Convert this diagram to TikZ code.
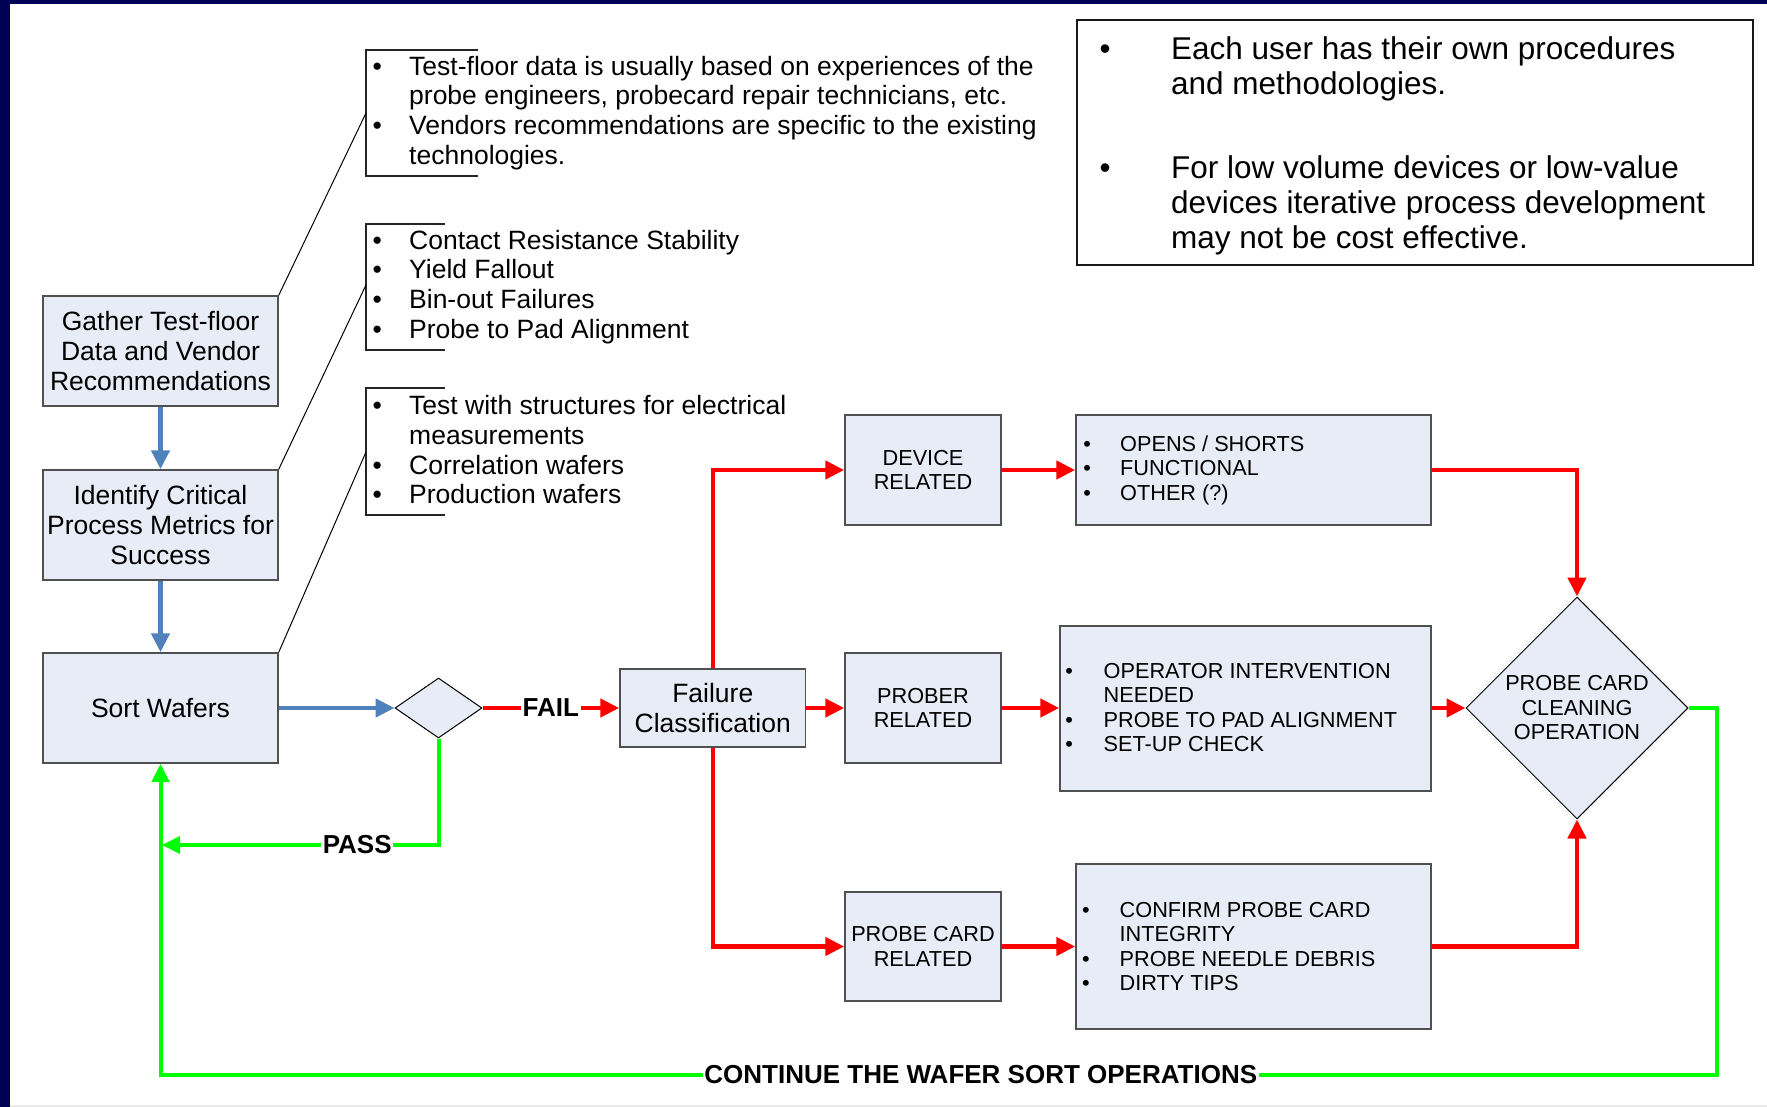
\documentclass[tikz,border=0pt]{standalone}
\usepackage{fontspec}
\setmainfont{Liberation Sans}
\usetikzlibrary{arrows.meta,shapes.geometric}
\definecolor{boxfill}{RGB}{231,236,246}
\definecolor{boxline}{RGB}{80,80,80}
\definecolor{navyb}{RGB}{0,0,85}
\definecolor{flowblue}{RGB}{79,129,189}
\definecolor{flowred}{RGB}{255,0,0}
\definecolor{flowgreen}{RGB}{0,255,0}
\newcommand\fontA{\fontsize{26.5pt}{29.8pt}\selectfont}
\newcommand\fontB{\fontsize{21.7pt}{24.5pt}\selectfont}
\newcommand\fontN{\fontsize{31.5pt}{35pt}\selectfont}
\newcommand\fontL{\fontsize{26pt}{30pt}\selectfont\bfseries}
\newcommand\bul[1]{\makebox[#1][l]{\textbullet}}
\begin{document}
\begin{tikzpicture}[x=1pt,y=-1pt,
  procbox/.style={rectangle, draw=boxline, line width=1.5pt, fill=boxfill, inner sep=0pt, align=center},
  decbox/.style={diamond, draw=black, line width=1pt, fill=boxfill, inner sep=0pt, align=center},
  bigtext/.style={font=\fontA},
  captext/.style={font=\fontB},
  listnode/.style={anchor=north west, inner sep=0pt, align=left},
  calloutline/.style={draw=black!85, line width=1.2pt},
  bluearrow/.style={draw=flowblue, line width=4.5pt, -{Triangle[length=19pt,width=18pt]}},
  redarrow/.style={draw=flowred, line width=4.5pt, -{Triangle[length=19pt,width=18pt]}},
  greenarrow/.style={draw=flowgreen, line width=4pt, -{Triangle[length=18pt,width=17pt]}},
  flowlabel/.style={font=\fontL, fill=white, inner sep=1.5pt, text=black}
]
\useasboundingbox (0,0) rectangle (1767,1107);
% background and frame
\fill[white] (0,0) rectangle (1767,1107);
\fill[navyb] (0,0) rectangle (9.5,1107);
\fill[navyb] (0,0) rectangle (1767,4.5);
\fill[black!8] (9.5,1105) rectangle (1767,1107);

% left column boxes
\node[procbox, bigtext, minimum width=235pt, minimum height=110pt] (gather) at (160.5,351) {Gather Test-floor\\Data and Vendor\\Recommendations};
\node[procbox, bigtext, minimum width=235pt, minimum height=110pt] (identify) at (160.5,525) {Identify Critical\\Process Metrics for\\Success};
\node[procbox, bigtext, minimum width=235pt, minimum height=110pt] (sort) at (160.5,708) {Sort Wafers};

% decision
\node[decbox, minimum width=87pt, minimum height=60pt] (dec) at (438.5,708) {};
\node[procbox, bigtext, minimum width=185.5pt, minimum height=78pt] (fc) at (712.75,708) {Failure\\Classification};

% classification boxes
\node[procbox, captext, minimum width=156pt, minimum height=110pt] (device) at (923,470) {DEVICE\\RELATED};
\node[procbox, captext, minimum width=156pt, minimum height=110pt] (prober) at (923,708) {PROBER\\RELATED};
\node[procbox, captext, minimum width=156pt, minimum height=109pt] (pcr) at (923,946.5) {PROBE CARD\\RELATED};

% detail boxes
\node[procbox, minimum width=355pt, minimum height=110pt] (opens) at (1253.5,470) {};
\node[procbox, minimum width=371pt, minimum height=165pt] (operator) at (1245.5,708.5) {};
\node[procbox, minimum width=355pt, minimum height=165pt] (confirm) at (1253.5,946.5) {};

\node[listnode, font=\fontB] (opensl) at (1083.2,433.9) {\begin{tabular}{@{}l@{}l@{}}
\bul{36.8pt}&OPENS / SHORTS\\
\bul{36.8pt}&FUNCTIONAL\\
\bul{36.8pt}&OTHER (?)\end{tabular}};
\node[listnode, font=\fontB] (operatorl) at (1065.2,660.9) {\begin{tabular}{@{}l@{}l@{}}
\bul{38.3pt}&OPERATOR INTERVENTION\\
&NEEDED\\
\bul{38.3pt}&PROBE TO PAD ALIGNMENT\\
\bul{38.3pt}&SET-UP CHECK\end{tabular}};
\node[listnode, font=\fontB] (confirml) at (1082,899.7) {\begin{tabular}{@{}l@{}l@{}}
\bul{37.5pt}&CONFIRM PROBE CARD\\
&INTEGRITY\\
\bul{37.5pt}&PROBE NEEDLE DEBRIS\\
\bul{37.5pt}&DIRTY TIPS\end{tabular}};

% cleaning decision
\node[decbox, font=\fontB, minimum width=222pt, minimum height=222pt] (clean) at (1577,708) {PROBE CARD\\CLEANING\\OPERATION};

% note box
\node[draw=black!90, line width=2pt, fill=white, inner sep=0pt, minimum width=676pt, minimum height=245pt] (note) at (1415,142.5) {};
\node[listnode, font=\fontN] (note1) at (1099.5,34.8) {\begin{tabular}{@{}l@{}l@{}}
\bul{71.5pt}&Each user has their own procedures\\
&and methodologies.\end{tabular}};
\node[listnode, font=\fontN] (note2) at (1099.5,153.8) {\begin{tabular}{@{}l@{}l@{}}
\bul{71.5pt}&For low volume devices or low-value\\
&devices iterative process development\\
&may not be cost effective.\end{tabular}};

% callouts
\node[listnode, font=\fontA] (c1) at (372.4,54.1) {\begin{tabular}{@{}l@{}l@{}}
\bul{36.6pt}&Test-floor data is usually based on experiences of the\\
&probe engineers, probecard repair technicians, etc.\\
\bul{36.6pt}&Vendors recommendations are specific to the existing\\
&technologies.\end{tabular}};
\node[listnode, font=\fontA] (c2) at (372.4,228.1) {\begin{tabular}{@{}l@{}l@{}}
\bul{36.6pt}&Contact Resistance Stability\\
\bul{36.6pt}&Yield Fallout\\
\bul{36.6pt}&Bin-out Failures\\
\bul{36.6pt}&Probe to Pad Alignment\end{tabular}};
\node[listnode, font=\fontA] (c3) at (372.4,393.4) {\begin{tabular}{@{}l@{}l@{}}
\bul{36.6pt}&Test with structures for electrical\\
&measurements\\
\bul{36.6pt}&Correlation wafers\\
\bul{36.6pt}&Production wafers\end{tabular}};

\draw[calloutline] (478,50) -- (366,50) -- (366,176) -- (478,176);
\draw[calloutline] (445,224) -- (366,224) -- (366,350) -- (445,350);
\draw[calloutline] (445,388) -- (366,388) -- (366,515) -- (445,515);
\coordinate (c1p) at (366,113);
\coordinate (c2p) at (366,285);
\coordinate (c3p) at (366,452);
\draw[black, line width=1pt] (gather.north east) -- (c1p);
\draw[black, line width=1pt] (identify.north east) -- (c2p);
\draw[black, line width=1pt] (sort.north east) -- (c3p);

% blue flow
\draw[bluearrow] (gather.south) -- (identify.north);
\draw[bluearrow] (identify.south) -- (sort.north);
\draw[bluearrow] (sort.east) -- (dec.west);

% red flow
\draw[redarrow] (dec.east) -- node[flowlabel]{FAIL} (fc.west);
\draw[redarrow] (fc.north) |- (device.west);
\draw[redarrow] (fc.east) -- (prober.west);
\draw[redarrow] (fc.south) |- (pcr.west);
\draw[redarrow] (device.east) -- (opens.west);
\draw[redarrow] (prober.east) -- (prober.east -| operator.west);
\draw[redarrow] (pcr.east) -- (confirm.west);
\draw[redarrow] (opens.east) -| (clean.north);
\draw[redarrow] (operator.east |- clean.west) -- (clean.west);
\draw[redarrow] (confirm.east) -| (clean.south);

% green flow
\coordinate (passL) at (162,845);
\coordinate (loopR) at (1717,1075);
\coordinate (loopL) at (160.5,1075);
\draw[greenarrow] (dec.south) |- node[flowlabel, pos=0.647]{PASS} (passL);
\draw[greenarrow] (clean.east) -| (loopR) -- node[flowlabel, pos=0.473]{CONTINUE THE WAFER SORT OPERATIONS} (loopL) -- (sort.south);
\end{tikzpicture}
\end{document}
